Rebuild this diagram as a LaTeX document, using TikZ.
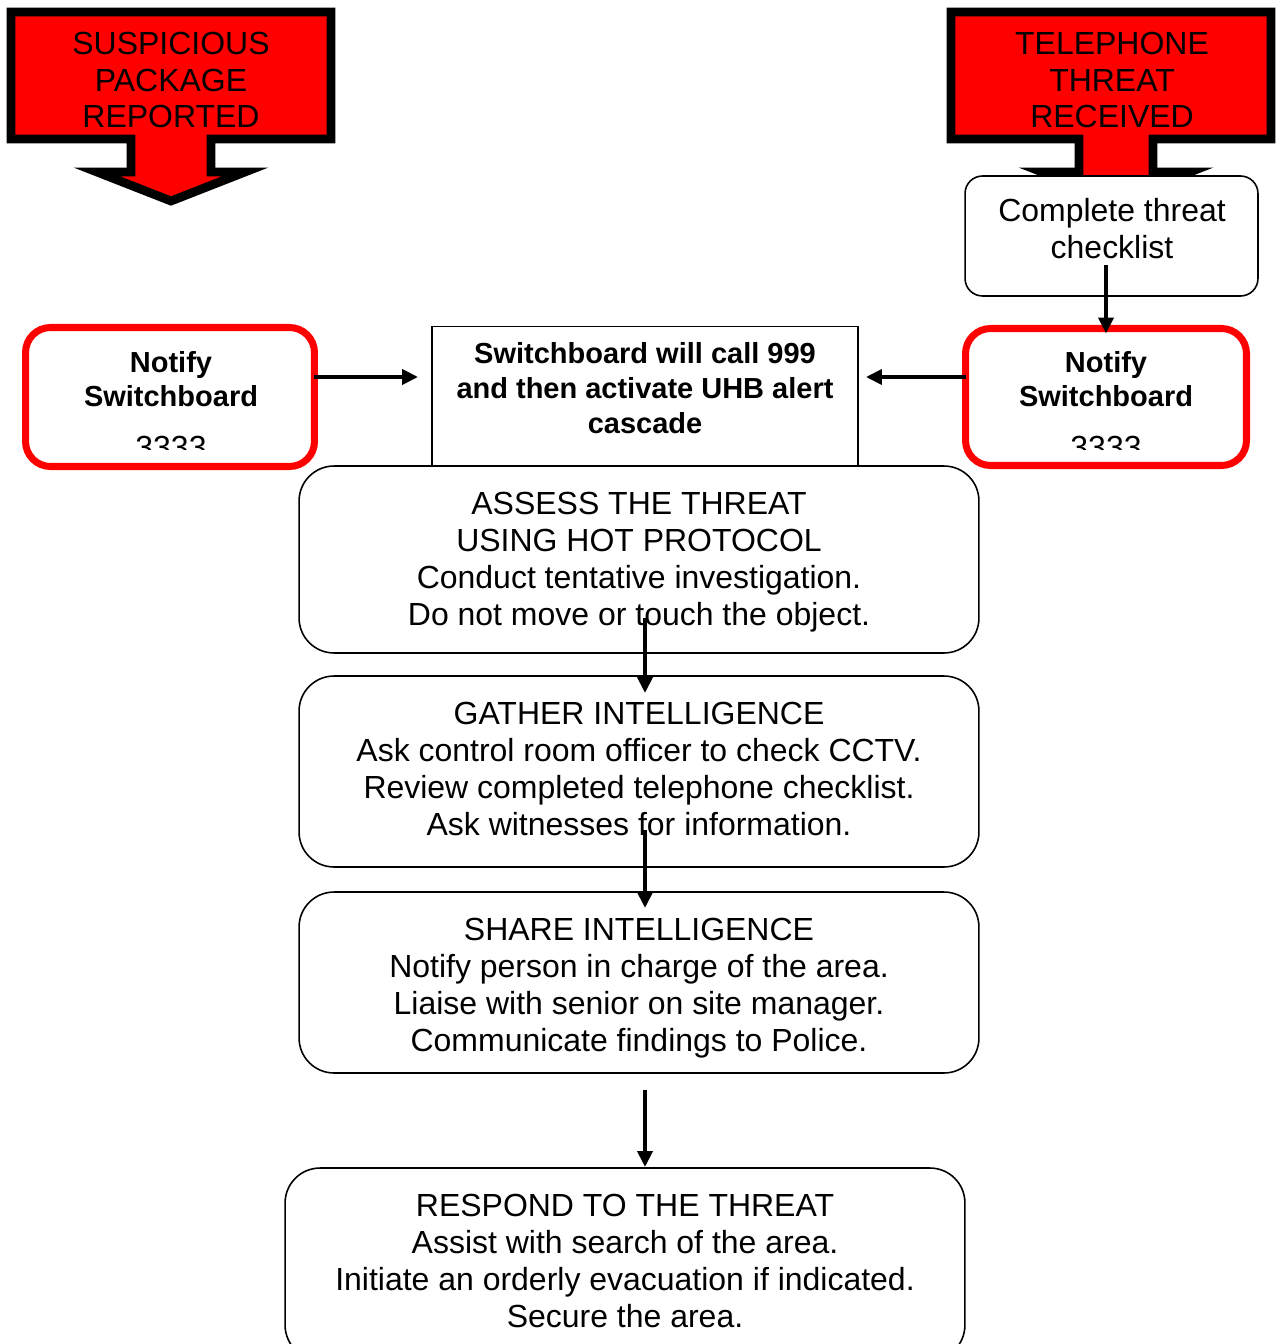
\documentclass[tikz,border=0pt]{standalone}
\usepackage{fontspec}
\setmainfont{Liberation Sans}
\usetikzlibrary{arrows.meta,calc}
\definecolor{rd}{RGB}{255,0,0}
\begin{document}
\begin{tikzpicture}[x=0.02cm,y=-0.02cm,
  reg/.style={font=\fontsize{18.2}{21}\selectfont, align=center, inner sep=0pt},
  bld/.style={font=\fontsize{16.5}{19.4}\selectfont\bfseries, align=center, inner sep=0pt},
  callout/.style={draw=black, line width=5pt, fill=rd, line join=miter},
  rbox/.style={draw=black, line width=0.9pt, fill=white, rounded corners=0.7cm, inner sep=0pt, outer sep=0pt},
  sbox/.style={draw=black, line width=0.9pt, fill=white, rounded corners=0.35cm, inner sep=0pt, outer sep=0pt},
  nbox/.style={draw=rd, line width=4pt, fill=white, rounded corners=0.5cm, inner sep=0pt, outer sep=0pt},
  plain/.style={draw=black, line width=0.9pt, fill=white, inner sep=0pt, outer sep=0pt},
  arr/.style={draw=black, line width=2.2pt, -{Triangle[length=0.32cm,width=0.3cm]}}]
\useasboundingbox[fill=white] (0,0) rectangle (1276,1344);

% callouts
\draw[callout] (11,12) -- (331,12) -- (331,139) -- (211,139) -- (211,172) -- (245,172) -- (171,201) -- (97,172) -- (131,172) -- (131,139) -- (11,139) -- cycle;
\node[reg] (sp) at (171,80) {SUSPICIOUS\\PACKAGE\\REPORTED};
\draw[callout] (951,12) -- (1271,12) -- (1271,139) -- (1153,139) -- (1153,172) -- (1190,172) -- (1116,201) -- (1042,172) -- (1079,172) -- (1079,139) -- (951,139) -- cycle;
\node[reg] (tt) at (1112,80) {TELEPHONE\\THREAT\\RECEIVED};

% checklist
\node[sbox, minimum width=5.86cm, minimum height=2.4cm] (ck) at (1111.5,236) {};
\node[reg] (ckt) at (1112,229) {Complete threat\\checklist};

% switchboard box
\node[plain, minimum width=8.52cm, minimum height=2.9cm] (sw) at (645,399) {};
\node[bld, font=\fontsize{16.5}{19.8}\selectfont\bfseries] (swt) at (645,388) {Switchboard will call 999\\and then activate UHB alert\\cascade};

% notify boxes
\node[nbox, minimum width=5.78cm, minimum height=2.78cm] (nl) at (170,397) {};
\node[bld] (nlt) at (171,379) {Notify\\Switchboard};
\node[nbox, minimum width=5.62cm, minimum height=2.74cm] (nr) at (1106,397) {};
\node[bld] (nrt) at (1106,379) {Notify\\Switchboard};
\begin{scope}
  \clip (0,300) rectangle (1276,449);
  \node[reg] (nln) at (171,447) {3333};
  \node[reg] (nrn) at (1106,447) {3333};
\end{scope}

% main boxes
\node[rbox, minimum width=13.6cm, minimum height=3.74cm] (as) at (639,559.5) {};
\node[reg] (ast) at (639,562) {ASSESS THE THREAT\\USING HOT PROTOCOL\\Conduct tentative investigation.\\Do not move or touch the object.};
\node[rbox, minimum width=13.6cm, minimum height=3.82cm] (ga) at (639,771.5) {};
\node[reg] (gat) at (639,769) {GATHER INTELLIGENCE\\Ask control room officer to check CCTV.\\Review completed telephone checklist.\\Ask witnesses for information.};
\node[rbox, minimum width=13.6cm, minimum height=3.62cm] (sh) at (639,982.5) {};
\node[reg] (sht) at (639,988) {SHARE INTELLIGENCE\\Notify person in charge of the area.\\Liaise with senior on site manager.\\Communicate findings to Police.};
\node[rbox, minimum width=13.6cm, minimum height=3.84cm] (re) at (625,1264) {};
\node[reg] (ret) at (625,1261) {RESPOND TO THE THREAT\\Assist with search of the area.\\Initiate an orderly evacuation if indicated.\\Secure the area.};

% connector coordinates
\coordinate (yh) at (0,377);
\coordinate (ckout) at (1106,265);
\coordinate (asout) at (645,618);
\coordinate (gain) at (645,693);
\coordinate (gaout) at (645,830);
\coordinate (shin) at (645,908);
\coordinate (shout) at (645,1090);
\coordinate (rein) at (645,1167);

% connectors
\draw[arr] (nl.east |- yh) -- ($(sw.west |- yh)+(-14,0)$);
\draw[arr] (nr.west |- yh) -- ($(sw.east |- yh)+(8,0)$);
\draw[arr] (ckout) -- ($(nr.north)+(0,5)$);
\draw[arr] (asout) -- (gain);
\draw[arr] (gaout) -- (shin);
\draw[arr] (shout) -- (rein);
\end{tikzpicture}
\end{document}
